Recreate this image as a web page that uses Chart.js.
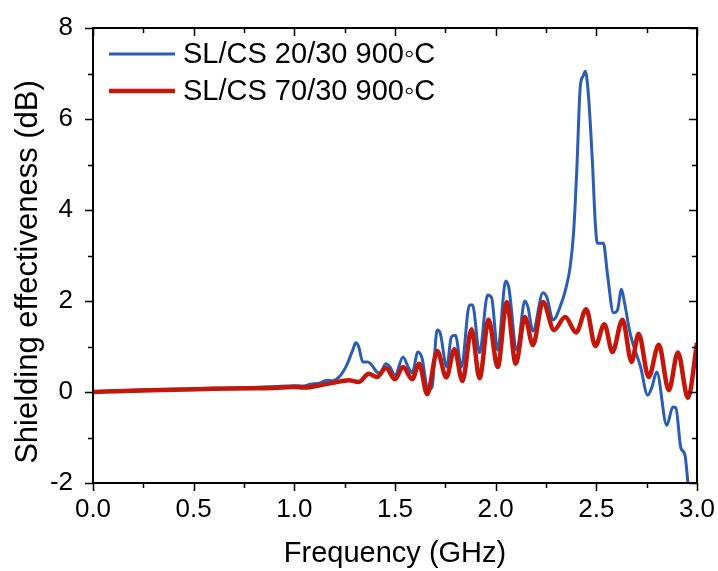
<!DOCTYPE html>
<html>
<head>
<meta charset="utf-8">
<script src="https://cdn.jsdelivr.net/npm/chart.js@4.4.1/dist/chart.umd.min.js"></script>
<style>
  body { margin: 0; background: #fff; }
  canvas { display: block; }
</style>
</head>
<body>
<canvas id="c" width="718" height="571"></canvas>
<script>
// values (GHz, dB)
const blueFreq = [
  0, 0.1, 0.2, 0.3, 0.4, 0.5, 0.6, 0.7, 0.8, 0.9,
  1.0, 1.04, 1.08, 1.13, 1.16, 1.19, 1.23, 1.26, 1.29, 1.306,
  1.32, 1.34, 1.365, 1.385, 1.41, 1.425, 1.455, 1.475, 1.50, 1.54,
  1.565, 1.585, 1.614, 1.634, 1.664, 1.684, 1.709, 1.724, 1.757, 1.78,
  1.80, 1.83, 1.87, 1.885, 1.92, 1.96, 1.98, 2.01, 2.05, 2.065,
  2.105, 2.145, 2.16, 2.185, 2.235, 2.255, 2.285, 2.32, 2.35, 2.37,
  2.387, 2.403, 2.42, 2.435, 2.445, 2.46, 2.48, 2.495, 2.505, 2.535,
  2.555, 2.585, 2.605, 2.625, 2.64, 2.67, 2.72, 2.755, 2.775, 2.80,
  2.85, 2.88, 2.895, 2.92, 2.94, 2.955
];
const blueSE = [
  0, 0.02, 0.04, 0.05, 0.06, 0.07, 0.08, 0.09, 0.10, 0.12,
  0.14, 0.13, 0.17, 0.20, 0.26, 0.25, 0.37, 0.59, 0.92, 1.08,
  0.99, 0.66, 0.66, 0.59, 0.44, 0.42, 0.62, 0.55, 0.37, 0.77,
  0.55, 0.42, 0.88, 0.75, 0.05, 0.11, 1.36, 1.30, 0.55, 1.21,
  1.25, 0.55, 1.91, 1.91, 0.86, 2.13, 2.07, 0.92, 2.44, 2.30,
  0.92, 2.00, 1.87, 1.34, 2.18, 2.07, 1.58, 1.87, 2.30, 2.75,
  3.5, 4.88, 6.7, 6.95, 7.05, 6.57, 5.1, 3.7, 3.27, 3.27,
  2.6, 1.74, 1.80, 2.26, 1.96, 1.25, 0.55, -0.07, 0.09, 0.44,
  -0.73, -0.33, -0.35, -1.23, -1.38, -2.0
];
const redFreq = [
  0, 0.2, 0.4, 0.6, 0.8, 0.9, 1.0, 1.05, 1.13, 1.19,
  1.27, 1.32, 1.37, 1.41, 1.455, 1.50, 1.54, 1.585, 1.62, 1.66,
  1.71, 1.755, 1.795, 1.835, 1.88, 1.92, 1.965, 2.01, 2.055, 2.10,
  2.145, 2.185, 2.235, 2.29, 2.345, 2.40, 2.45, 2.495, 2.54, 2.58,
  2.63, 2.675, 2.71, 2.76, 2.81, 2.86, 2.905, 2.955, 3.0
];
const redSE = [
  0, 0.03, 0.05, 0.07, 0.08, 0.09, 0.11, 0.10, 0.15, 0.20,
  0.26, 0.22, 0.40, 0.33, 0.53, 0.28, 0.55, 0.28, 0.62, -0.05,
  0.90, 0.32, 0.94, 0.24, 1.38, 0.30, 1.59, 0.55, 1.97, 0.62,
  1.65, 1.03, 1.98, 1.36, 1.65, 1.31, 1.82, 1.01, 1.49, 0.88,
  1.59, 0.66, 1.28, 0.33, 1.04, 0.04, 0.87, -0.13, 1.08
];
const labels = ['SL/CS 20/30 900\u25E6C', 'SL/CS 70/30 900\u25E6C'];
const xTitle = 'Frequency (GHz)';
const yTitle = 'Shielding effectiveness (dB)';

const FONT = "'Liberation Sans', Arial, sans-serif";

function points(xs, ys) {
  return xs.map((x, i) => ({x: x, y: ys[i]}));
}

// frame with minor ticks, y title and the inset legend
const framePlugin = {
  id: 'frame',
  afterDraw(chart) {
    const {ctx, chartArea: a, scales: {x, y}} = chart;
    ctx.save();
    ctx.strokeStyle = '#000';
    ctx.lineWidth = 2;
    ctx.strokeRect(a.left, a.top, a.right - a.left, a.bottom - a.top);

    ctx.lineWidth = 1.5;
    ctx.beginPath();
    for (let v = 0; v <= 3.0001; v += 0.25) {
      const px = Math.round(x.getPixelForValue(v)) + 0.5;
      const len = Math.abs(v / 0.5 - Math.round(v / 0.5)) < 1e-6 ? 8 : 5;
      ctx.moveTo(px, a.bottom);
      ctx.lineTo(px, a.bottom + len);
      ctx.moveTo(px, a.top);
      ctx.lineTo(px, a.top + len);
    }
    for (let v = -2; v <= 8; v += 1) {
      const py = Math.round(y.getPixelForValue(v)) + 0.5;
      const len = v % 2 === 0 ? 8 : 5;
      ctx.moveTo(a.left, py);
      ctx.lineTo(a.left - len, py);
      ctx.moveTo(a.right, py);
      ctx.lineTo(a.right - len, py);
    }
    ctx.stroke();

    ctx.fillStyle = '#000';
    ctx.save();
    ctx.font = '31px ' + FONT;
    ctx.translate(28, 272);
    ctx.rotate(-Math.PI / 2);
    ctx.textAlign = 'center';
    ctx.textBaseline = 'middle';
    ctx.fillText(yTitle, 0, 0);
    ctx.restore();

    ctx.font = '29px ' + FONT;
    const ds = chart.data.datasets;
    const rows = [54, 91];
    ds.forEach((d, i) => {
      ctx.strokeStyle = d.borderColor;
      ctx.lineWidth = d.borderWidth;
      ctx.beginPath();
      ctx.moveTo(109, rows[i]);
      ctx.lineTo(175, rows[i]);
      ctx.stroke();
      ctx.textAlign = 'left';
      ctx.textBaseline = 'middle';
      ctx.fillText(d.label, 183, rows[i] + 1);
    });
    ctx.restore();
  }
};

new Chart(document.getElementById('c'), {
  type: 'line',
  data: {
    datasets: [
      {
        label: labels[0],
        data: points(blueFreq, blueSE),
        borderColor: '#2a5db3',
        borderWidth: 3,
        pointRadius: 0,
        cubicInterpolationMode: 'monotone',
        order: 1
      },
      {
        label: labels[1],
        data: points(redFreq, redSE),
        borderColor: '#c3170b',
        borderWidth: 4.5,
        pointRadius: 0,
        cubicInterpolationMode: 'monotone',
        order: 0
      }
    ]
  },
  options: {
    responsive: false,
    animation: false,
    devicePixelRatio: 1,
    layout: {padding: {top: 28, right: 21, left: 0, bottom: 0}},
    plugins: {legend: {display: false}, tooltip: {enabled: false}},
    scales: {
      x: {
        type: 'linear',
        min: 0,
        max: 3,
        grid: {display: false},
        border: {display: false},
        ticks: {
          stepSize: 0.5,
          autoSkip: false,
          maxRotation: 0,
          padding: 3,
          color: '#000',
          font: {size: 26, family: FONT},
          callback: v => v.toFixed(1)
        },
        title: {
          display: true,
          text: xTitle,
          color: '#000',
          font: {size: 29, family: FONT},
          padding: {top: 0, bottom: 0}
        },
        afterFit(s) {
          s.height = 88;
          s.paddingLeft = 0;
          s.paddingRight = 0;
        }
      },
      y: {
        min: -2,
        max: 8,
        grid: {display: false},
        border: {display: false},
        ticks: {
          stepSize: 2,
          padding: 12,
          color: '#000',
          font: {size: 26, family: FONT}
        },
        afterFit(s) {
          s.width = 93;
          s.paddingTop = 0;
          s.paddingBottom = 0;
        }
      }
    }
  },
  plugins: [framePlugin]
});
</script>
</body>
</html>
